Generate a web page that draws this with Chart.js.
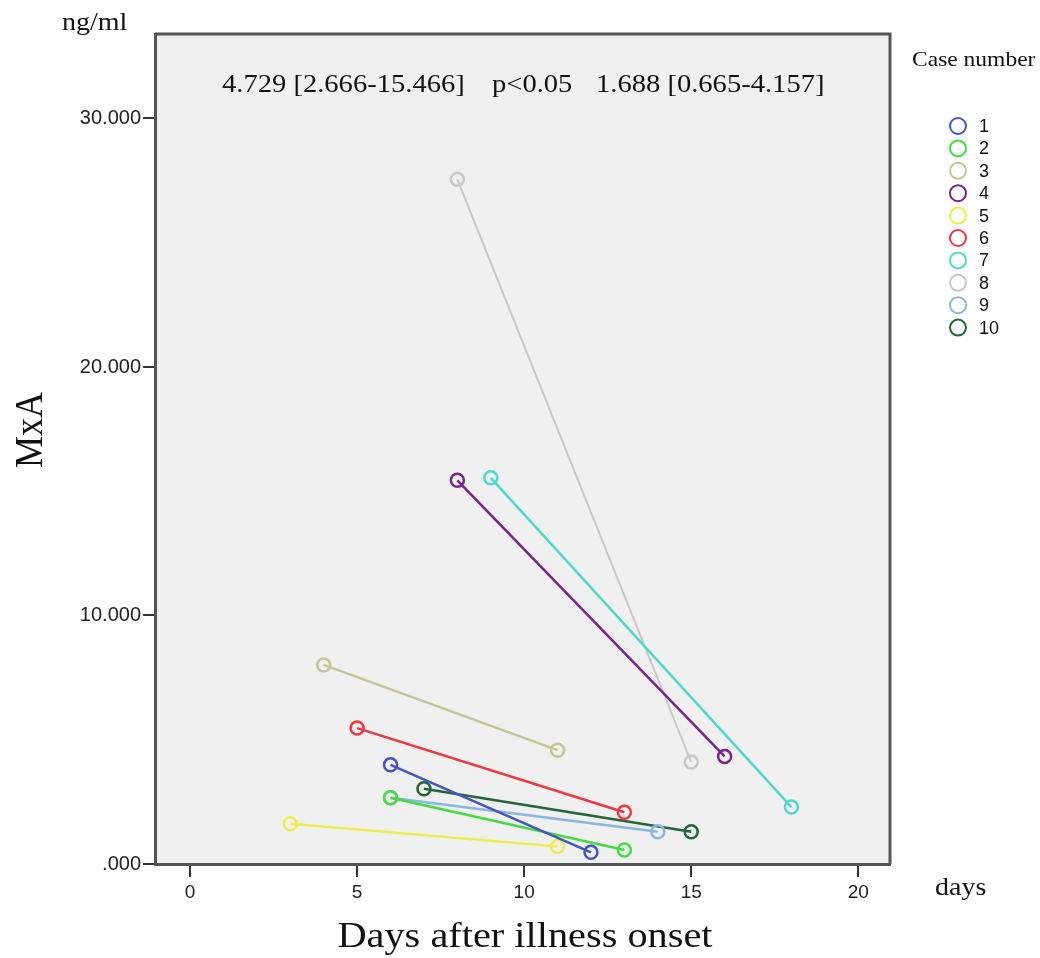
<!DOCTYPE html>
<html>
<head>
<meta charset="utf-8">
<script src="https://cdn.jsdelivr.net/npm/chart.js@4.4.1/dist/chart.umd.min.js"></script>
<style>
  html, body { margin: 0; padding: 0; background: #ffffff; }
  #wrap { width: 1040px; height: 958px; position: relative; }
</style>
</head>
<body>
<div id="wrap"><canvas id="c" width="1040" height="958"></canvas></div>
<script>
// ---- data ----
const caseLabels = ['1', '2', '3', '4', '5', '6', '7', '8', '9', '10'];
const firstDay   = [6, 6, 4, 8, 3, 5, 9, 8, 6, 7];
const secondDay  = [12, 13, 11, 16, 11, 13, 18, 15, 14, 15];
const firstMxA   = [3.99, 2.666, 8.01, 15.44, 1.62, 5.47, 15.54, 27.55, 2.666, 3.03];
const secondMxA  = [0.47, 0.56, 4.58, 4.33, 0.70, 2.08, 2.29, 4.10, 1.30, 1.30];
const caseColors = ['#4455c2', '#44dc40', '#c6c596', '#76248c', '#eeee50', '#f0363f', '#52d8c8', '#c8c8c8', '#8ab6e4', '#22663a'];
const xTickValues = [0, 5, 10, 15, 20];
const yTickValues = [0, 10, 20, 30];
const xTitle = 'Days after illness onset';
const yTitle = 'MxA';
const yUnit = 'ng/ml';
const xUnit = 'days';
const legendTitle = 'Case number';
const annotationParts = ['4.729 [2.666-15.466]', 'p<0.05', '1.688 [0.665-4.157]'];

const SERIF = '"Liberation Serif", "Times New Roman", serif';
const SANS = '"Liberation Sans", Arial, sans-serif';
const STRETCH = 1.12;

const datasets = caseLabels.map((lab, i) => ({
  label: lab,
  data: [{ x: firstDay[i], y: firstMxA[i] }, { x: secondDay[i], y: secondMxA[i] }],
  showLine: true,
  borderColor: caseColors[i],
  backgroundColor: 'rgba(0,0,0,0)',
  borderWidth: i === 7 ? 2 : 2.5,
  pointRadius: 6.5,
  pointBorderWidth: 2.5,
  pointBorderColor: caseColors[i],
  pointBackgroundColor: 'rgba(0,0,0,0)',
  pointHoverRadius: 6.5,
  tension: 0
}));

function stretchedText(ctx, text, x, y, font, align) {
  ctx.save();
  ctx.font = font;
  ctx.fillStyle = '#111';
  ctx.textBaseline = 'alphabetic';
  const w = ctx.measureText(text).width * STRETCH;
  let left = x;
  if (align === 'center') left = x - w / 2;
  ctx.translate(left, y);
  ctx.scale(STRETCH, 1);
  ctx.textAlign = 'left';
  ctx.fillText(text, 0, 0);
  ctx.restore();
}

const decor = {
  id: 'decor',
  beforeDraw(chart) {
    const { ctx, chartArea: a } = chart;
    ctx.save();
    ctx.fillStyle = '#ffffff';
    ctx.fillRect(0, 0, chart.width, chart.height);
    ctx.fillStyle = '#f0f0f0';
    ctx.fillRect(a.left, a.top, a.right - a.left, a.bottom - a.top);
    ctx.restore();
  },
  afterDraw(chart) {
    const { ctx, chartArea: a } = chart;
    ctx.save();
    ctx.strokeStyle = '#555';
    ctx.lineWidth = 3;
    ctx.beginPath();
    ctx.moveTo(a.left, a.top);
    ctx.lineTo(a.right, a.top);
    ctx.lineTo(a.right, a.bottom);
    ctx.stroke();
    ctx.restore();

    stretchedText(ctx, yUnit, 62, 30, '25px ' + SERIF, 'left');
    stretchedText(ctx, xUnit, 935, 895, '25px ' + SERIF, 'left');
    stretchedText(ctx, xTitle, 525, 947, '36px ' + SERIF, 'center');
    const annX = [222, 492, 596];
    annotationParts.forEach((t, i) => stretchedText(ctx, t, annX[i], 92, '25.5px ' + SERIF, 'left'));

    ctx.save();
    ctx.translate(42, 430);
    ctx.rotate(-Math.PI / 2);
    ctx.scale(1, STRETCH);
    ctx.font = '36px ' + SERIF;
    ctx.fillStyle = '#111';
    ctx.textAlign = 'center';
    ctx.textBaseline = 'alphabetic';
    ctx.fillText(yTitle, 0, 0);
    ctx.restore();

    stretchedText(ctx, legendTitle, 912, 66, '21px ' + SERIF, 'left');
    ctx.save();
    caseLabels.forEach((lab, i) => {
      const cy = 126 + i * 22.4;
      ctx.beginPath();
      ctx.strokeStyle = caseColors[i];
      ctx.lineWidth = 2;
      ctx.arc(958, cy, 8, 0, Math.PI * 2);
      ctx.stroke();
      ctx.fillStyle = '#111';
      ctx.font = '18px ' + SANS;
      ctx.textAlign = 'left';
      ctx.textBaseline = 'middle';
      ctx.fillText(lab, 979, cy + 1);
    });
    ctx.restore();
  }
};

new Chart(document.getElementById('c'), {
  type: 'scatter',
  data: { datasets },
  options: {
    responsive: false,
    animation: false,
    events: [],
    layout: { padding: { top: 34, right: 150, left: 0, bottom: 0 } },
    plugins: { legend: { display: false }, tooltip: { enabled: false } },
    scales: {
      x: {
        type: 'linear',
        min: -1.05,
        max: 20.95,
        afterFit(scale) { scale.height = 94; },
        afterBuildTicks(scale) { scale.ticks = xTickValues.map(v => ({ value: v })); },
        ticks: {
          font: { family: SANS, size: 19 },
          color: '#222',
          padding: 4,
          maxRotation: 0,
          callback: v => String(v)
        },
        grid: { drawOnChartArea: false, drawTicks: true, tickLength: 13, color: '#333', lineWidth: 2 },
        border: { display: true, color: '#555', width: 3 }
      },
      y: {
        type: 'linear',
        min: 0,
        max: 33.4,
        afterFit(scale) { scale.width = 155; },
        afterBuildTicks(scale) { scale.ticks = yTickValues.map(v => ({ value: v })); },
        ticks: {
          font: { family: SANS, size: 20 },
          color: '#222',
          padding: 2,
          callback: v => (v === 0 ? '.000' : v.toFixed(3))
        },
        grid: { drawOnChartArea: false, drawTicks: true, tickLength: 12, color: '#333', lineWidth: 2 },
        border: { display: true, color: '#555', width: 3 }
      }
    }
  },
  plugins: [decor]
});
</script>
</body>
</html>
